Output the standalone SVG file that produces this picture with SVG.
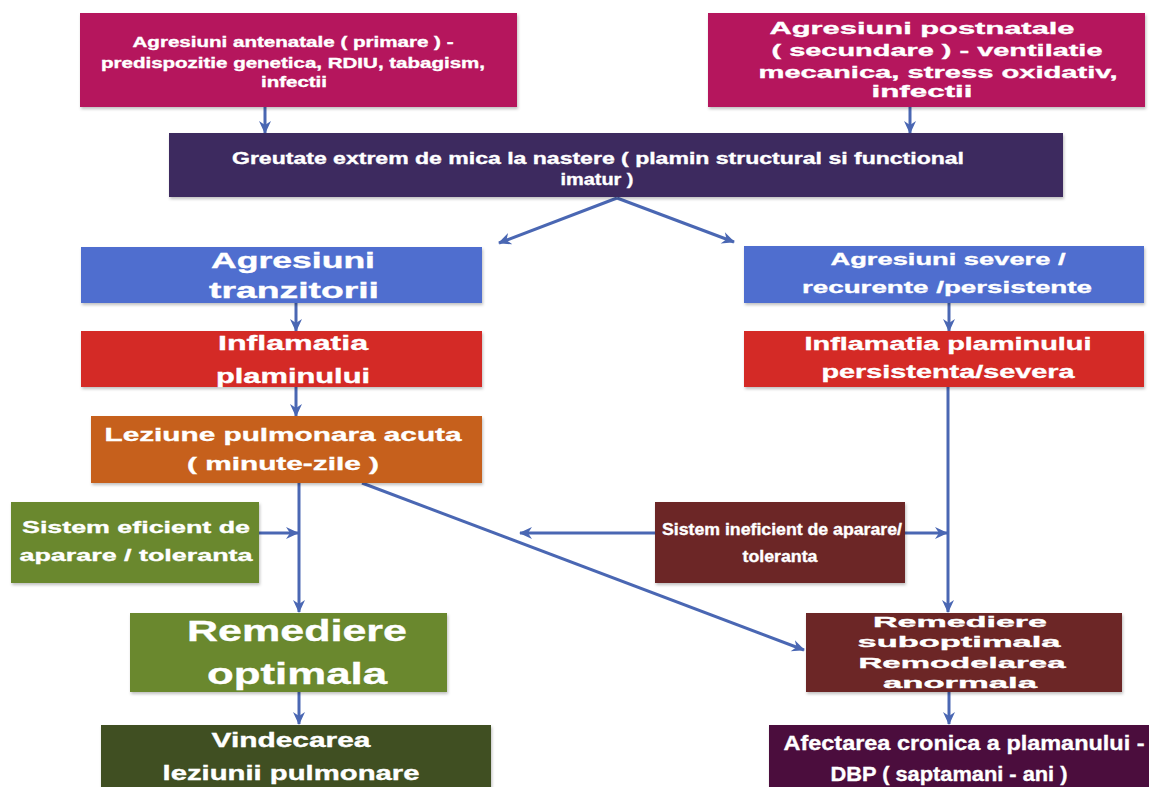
<svg xmlns="http://www.w3.org/2000/svg" width="1149" height="787" viewBox="0 0 1149 787">
<defs>
<style>
.t{font-family:"Liberation Sans",Arial,sans-serif;font-weight:bold;fill:#ffffff;text-anchor:middle;stroke:#ffffff;stroke-width:0.35}
.c{stroke:#4a67b3;stroke-width:3;fill:none}
.box{filter:url(#sh)}
</style>
<filter id="sh" x="-5%" y="-10%" width="110%" height="130%">
<feDropShadow dx="1" dy="2" stdDeviation="1.5" flood-color="#000" flood-opacity="0.25"/>
</filter>
<marker id="ah" markerUnits="userSpaceOnUse" markerWidth="16" markerHeight="16" refX="13" refY="7" orient="auto">
<path d="M1,1 L14,7 L1,13 L5,7 z" fill="#4a67b3"/>
</marker>
</defs>
<rect width="1149" height="787" fill="#ffffff"/>

<g id="connectors">
<line class="c" x1="265" y1="107" x2="265" y2="133" marker-end="url(#ah)"/>
<line class="c" x1="910" y1="107" x2="910" y2="133" marker-end="url(#ah)"/>
<line class="c" x1="617" y1="198" x2="499" y2="243" marker-end="url(#ah)" stroke-width="3.5"/>
<line class="c" x1="617" y1="198" x2="734" y2="242" marker-end="url(#ah)" stroke-width="3.5"/>
<line class="c" x1="296" y1="303" x2="296" y2="331" marker-end="url(#ah)"/>
<line class="c" x1="296" y1="387" x2="296" y2="416" marker-end="url(#ah)"/>
<line class="c" x1="949" y1="303" x2="949" y2="331" marker-end="url(#ah)"/>
<line class="c" x1="948" y1="387" x2="948" y2="612" marker-end="url(#ah)"/>
<line class="c" x1="299" y1="483" x2="299" y2="612" marker-end="url(#ah)"/>
<line class="c" x1="259" y1="533" x2="298" y2="533" marker-end="url(#ah)"/>
<line class="c" x1="362" y1="483" x2="804" y2="650" marker-end="url(#ah)" stroke-width="3.5"/>
<line class="c" x1="655" y1="533" x2="520" y2="533" marker-end="url(#ah)"/>
<line class="c" x1="905" y1="533" x2="947" y2="533" marker-end="url(#ah)"/>
<line class="c" x1="299" y1="692" x2="299" y2="724" marker-end="url(#ah)"/>
<line class="c" x1="949" y1="692" x2="949" y2="724" marker-end="url(#ah)"/>
</g>

<g id="n-antenatale">
<rect class="box" x="80" y="13" width="437" height="94" fill="#b5195d"/>
<text class="t" font-size="14" x="293" y="47" textLength="321" lengthAdjust="spacingAndGlyphs">Agresiuni antenatale ( primare ) -</text>
<text class="t" font-size="14" x="293" y="68" textLength="384" lengthAdjust="spacingAndGlyphs">predispozitie genetica, RDIU, tabagism,</text>
<text class="t" font-size="14" x="294" y="87" textLength="66" lengthAdjust="spacingAndGlyphs">infectii</text>
</g>

<g id="n-postnatale">
<rect class="box" x="708" y="13" width="437" height="94" fill="#b5195d"/>
<text class="t" font-size="17" x="922" y="34" textLength="305" lengthAdjust="spacingAndGlyphs">Agresiuni postnatale</text>
<text class="t" font-size="17" x="937" y="56" textLength="331" lengthAdjust="spacingAndGlyphs">( secundare ) - ventilatie</text>
<text class="t" font-size="17" x="938" y="78" textLength="359" lengthAdjust="spacingAndGlyphs">mecanica, stress oxidativ,</text>
<text class="t" font-size="17" x="922" y="97" textLength="101" lengthAdjust="spacingAndGlyphs">infectii</text>
</g>

<g id="n-greutate">
<rect class="box" x="169" y="133" width="894" height="64" fill="#3d2a5e"/>
<text class="t" font-size="16" x="598" y="164" textLength="732" lengthAdjust="spacingAndGlyphs">Greutate extrem de mica la nastere ( plamin structural si functional</text>
<text class="t" font-size="16" x="597" y="185" textLength="73" lengthAdjust="spacingAndGlyphs">imatur )</text>
</g>

<g id="n-tranzitorii">
<rect class="box" x="81" y="247" width="401" height="56" fill="#4f6ecf"/>
<text class="t" font-size="22" x="293" y="268" textLength="164" lengthAdjust="spacingAndGlyphs">Agresiuni</text>
<text class="t" font-size="22" x="294" y="298" textLength="170" lengthAdjust="spacingAndGlyphs">tranzitorii</text>
</g>

<g id="n-severe">
<rect class="box" x="744" y="246" width="400" height="57" fill="#4f6ecf"/>
<text class="t" font-size="17" x="948" y="265" textLength="235" lengthAdjust="spacingAndGlyphs">Agresiuni severe /</text>
<text class="t" font-size="17" x="947" y="293" textLength="290" lengthAdjust="spacingAndGlyphs">recurente /persistente</text>
</g>

<g id="n-inflamatia">
<rect class="box" x="81" y="331" width="401" height="56" fill="#d42a25"/>
<text class="t" font-size="20" x="293" y="350" textLength="150" lengthAdjust="spacingAndGlyphs">Inflamatia</text>
<text class="t" font-size="20" x="293" y="383" textLength="154" lengthAdjust="spacingAndGlyphs">plaminului</text>
</g>

<g id="n-inflamatia-severa">
<rect class="box" x="744" y="331" width="400" height="56" fill="#d42a25"/>
<text class="t" font-size="18" x="948" y="350" textLength="287" lengthAdjust="spacingAndGlyphs">Inflamatia plaminului</text>
<text class="t" font-size="18" x="948" y="378" textLength="253" lengthAdjust="spacingAndGlyphs">persistenta/severa</text>
</g>

<g id="n-leziune">
<rect class="box" x="91" y="416" width="391" height="67" fill="#c6601e"/>
<text class="t" font-size="19" x="283" y="441" textLength="357" lengthAdjust="spacingAndGlyphs">Leziune pulmonara acuta</text>
<text class="t" font-size="19" x="283" y="470" textLength="192" lengthAdjust="spacingAndGlyphs">( minute-zile )</text>
</g>

<g id="n-eficient">
<rect class="box" x="11" y="502" width="248" height="81" fill="#6a882f"/>
<text class="t" font-size="17" x="136" y="533" textLength="228" lengthAdjust="spacingAndGlyphs">Sistem eficient de</text>
<text class="t" font-size="17" x="136" y="561" textLength="233" lengthAdjust="spacingAndGlyphs">aparare / toleranta</text>
</g>

<g id="n-ineficient">
<rect class="box" x="655" y="502" width="250" height="81" fill="#6c2825"/>
<text class="t" font-size="16" x="782" y="535" textLength="240" lengthAdjust="spacingAndGlyphs">Sistem ineficient de aparare/</text>
<text class="t" font-size="16" x="780" y="562" textLength="75" lengthAdjust="spacingAndGlyphs">toleranta</text>
</g>

<g id="n-optimala">
<rect class="box" x="130" y="613" width="317" height="79" fill="#6a882f"/>
<text class="t" font-size="30" x="297" y="641" textLength="220" lengthAdjust="spacingAndGlyphs">Remediere</text>
<text class="t" font-size="30" x="297" y="684" textLength="180" lengthAdjust="spacingAndGlyphs">optimala</text>
</g>

<g id="n-suboptimala">
<rect class="box" x="806" y="613" width="316" height="79" fill="#6c2825"/>
<text class="t" font-size="15" x="960" y="627" textLength="174" lengthAdjust="spacingAndGlyphs">Remediere</text>
<text class="t" font-size="15" x="959" y="647" textLength="203" lengthAdjust="spacingAndGlyphs">suboptimala</text>
<text class="t" font-size="15" x="962" y="668" textLength="207" lengthAdjust="spacingAndGlyphs">Remodelarea</text>
<text class="t" font-size="15" x="960" y="688" textLength="154" lengthAdjust="spacingAndGlyphs">anormala</text>
</g>

<g id="n-vindecarea">
<rect class="box" x="101" y="725" width="390" height="70" fill="#3f5020"/>
<text class="t" font-size="20" x="291" y="747" textLength="159" lengthAdjust="spacingAndGlyphs">Vindecarea</text>
<text class="t" font-size="20" x="291" y="780" textLength="257" lengthAdjust="spacingAndGlyphs">leziunii pulmonare</text>
</g>

<g id="n-afectarea">
<rect class="box" x="769" y="725" width="385" height="70" fill="#4b0a3e"/>
<text class="t" font-size="21" x="964" y="750" textLength="361" lengthAdjust="spacingAndGlyphs">Afectarea cronica a plamanului -</text>
<text class="t" font-size="21" x="949" y="781" textLength="237" lengthAdjust="spacingAndGlyphs">DBP ( saptamani - ani )</text>
</g>
</svg>
